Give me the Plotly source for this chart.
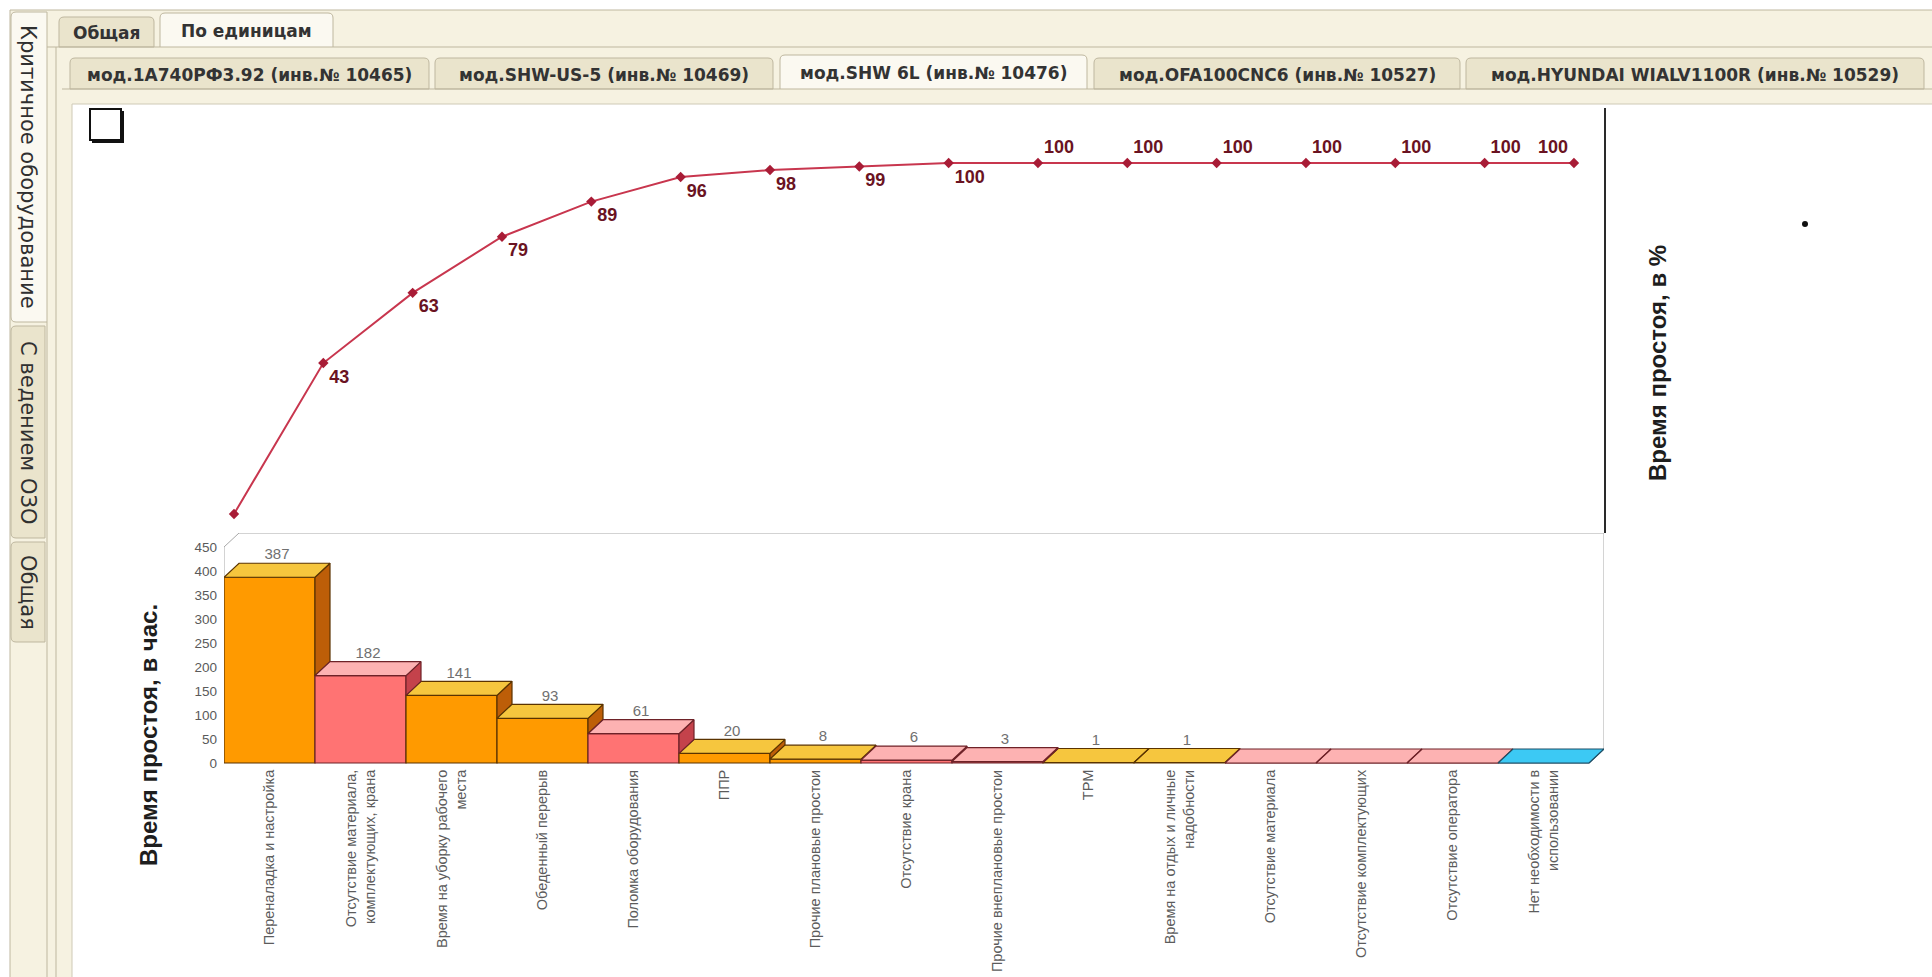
import plotly.graph_objects as go

# ---------------- data ----------------
categories = [
    "Переналадка и настройка",
    "Отсутствие материала,<br>комплектующих, крана",
    "Время на уборку рабочего<br>места",
    "Обеденный перерыв",
    "Поломка оборудования",
    "ППР",
    "Прочие плановые простои",
    "Отсутствие крана",
    "Прочие внеплановые простои",
    "ТРМ",
    "Время на отдых и личные<br>надобности",
    "Отсутствие материала",
    "Отсутствие комплектующих",
    "Отсутствие оператора",
    "Нет необходимости в<br>использовании",
]
downtime_hours = [387, 182, 141, 93, 61, 20, 8, 6, 3, 1, 1, 0, 0, 0, 0]
cumulative_pct = [0, 43, 63, 79, 89, 96, 98, 99, 100, 100, 100, 100, 100, 100, 100, 100]
bar_palette = ["orange", "pink", "orange", "orange", "pink", "orange", "orange",
               "pink", "pink", "orange", "orange", "pink", "pink", "pink", "blue"]
hour_ticks = [0, 50, 100, 150, 200, 250, 300, 350, 400, 450]

side_tabs = ["Критичное оборудование", "С ведением ОЗО", "Общая"]
view_tabs = ["Общая", "По единицам"]
machine_tabs = [
    "мод.1А740РФ3.92 (инв.№ 10465)",
    "мод.SHW-US-5 (инв.№ 10469)",
    "мод.SHW 6L (инв.№ 10476)",
    "мод.OFA100CNC6 (инв.№ 10527)",
    "мод.HYUNDAI WIALV1100R (инв.№ 10529)",
]
active_machine = 2

# ---------------- styling ----------------
W, H = 1932, 977
FONT = "Arial, Liberation Sans, sans-serif"
TAB_FONT = "DejaVu Sans, Verdana, sans-serif"
PALETTES = {
    "orange": dict(front="#FF9A00", top="#F6C63E", side="#BD5E08", edge="#5A3300"),
    "pink": dict(front="#FF7373", top="#FDB2B2", side="#C4424B", edge="#6E2228"),
    "blue": dict(front="#36C5F0", top="#3CC9F4", side="#1E8DB6", edge="#1F4F66"),
}
CREAM = "#F6F2E1"
TAB_OFF = "#EAE4CC"
TAB_ON = "#FBF9F1"
BORDER = "#BEB79F"

# bar chart frame (pixels)
BAR_L, BAR_R = 224, 1604
BAR_TOP, BAR_ZERO = 533, 763
DEPTH_X, DEPTH_Y = 15, 14
n = len(downtime_hours)
unit_px = (BAR_R - BAR_L - DEPTH_X) / n
hour_px = (BAR_ZERO - BAR_TOP - DEPTH_Y) / hour_ticks[-1]
dx = DEPTH_X / unit_px
dy = DEPTH_Y / hour_px
pad_h = 6

# pareto line frame (pixels)
LINE_X0, LINE_STEP, LINE_R = 234, 89.33, 1604
LINE_TOP, LINE_BOT = 108, 533
PCT0_Y, PCT100_Y = 514, 163
pct_px = (PCT0_Y - PCT100_Y) / 100.0


def px(x):
    return x / W


def py(y):
    return 1 - y / H


fig = go.Figure()

# ---- front faces of the bars ----
idx = list(range(n))
fig.add_trace(go.Bar(
    x=idx, y=downtime_hours, width=1,
    marker=dict(color=[PALETTES[p]["front"] for p in bar_palette],
                line=dict(color=[PALETTES[p]["edge"] for p in bar_palette], width=1.2)),
    xaxis="x", yaxis="y", hoverinfo="skip", showlegend=False,
))

# ---- top and side faces (3D depth) ----
for pal_name, pal in PALETTES.items():
    tx, ty, sx, sy = [], [], [], []
    for i, v in enumerate(downtime_hours):
        if bar_palette[i] != pal_name:
            continue
        nxt = downtime_hours[i + 1] if i + 1 < n else 0
        xl, xr = i - 0.5, i + 0.5
        tx += [xl, xr, xr + dx, xl + dx, xl, None]
        ty += [v, v, v + dy, v + dy, v, None]
        sx += [xr, xr, xr + dx, xr + dx, xr, None]
        sy += [nxt, v, v + dy, nxt + dy, nxt, None]
    for xs, ys, col in ((sx, sy, pal["side"]), (tx, ty, pal["top"])):
        fig.add_trace(go.Scatter(
            x=xs, y=ys, mode="lines", fill="toself", fillcolor=col,
            line=dict(color=pal["edge"], width=1.2),
            xaxis="x", yaxis="y", hoverinfo="skip", showlegend=False,
        ))

# ---- value labels over the bars ----
fig.add_trace(go.Scatter(
    x=[i + dx / 2 for i in idx],
    y=[v + dy for v in downtime_hours],
    text=[str(v) if v > 0 else "" for v in downtime_hours],
    mode="text", textposition="top center",
    textfont=dict(family=FONT, size=15, color="#707070"),
    xaxis="x", yaxis="y", hoverinfo="skip", showlegend=False, cliponaxis=False,
))

# ---- cumulative percentage line ----
positions = []
for k, val in enumerate(cumulative_pct):
    if k == len(cumulative_pct) - 1:
        positions.append("top left")
    elif k > 0 and val == cumulative_pct[k - 1]:
        positions.append("top right")
    else:
        positions.append("bottom right")
fig.add_trace(go.Scatter(
    x=list(range(len(cumulative_pct))), y=cumulative_pct,
    text=[""] + [str(v) for v in cumulative_pct[1:]],
    mode="lines+markers+text", textposition=positions,
    line=dict(color="#C8364E", width=2),
    marker=dict(symbol="diamond", size=8, color="#A81C36"),
    textfont=dict(family=FONT, size=18, color="#6A1322", weight="bold"),
    xaxis="x2", yaxis="y2", hoverinfo="skip", showlegend=False, cliponaxis=False,
))

# ---------------- window chrome ----------------
shapes = []
annotations = []


def rect(x0, y0, x1, y1, fill, line=BORDER, width=1, layer="below"):
    shapes.append(dict(type="rect", xref="paper", yref="paper",
                       x0=px(x0), x1=px(x1), y0=py(y1), y1=py(y0),
                       fillcolor=fill, line=dict(color=line, width=width), layer=layer))


def hline(x0, x1, y, color=BORDER, width=1):
    shapes.append(dict(type="line", xref="paper", yref="paper",
                       x0=px(x0), x1=px(x1), y0=py(y), y1=py(y),
                       line=dict(color=color, width=width), layer="below"))


def vline(x, y0, y1, color=BORDER, width=1):
    shapes.append(dict(type="line", xref="paper", yref="paper",
                       x0=px(x), x1=px(x), y0=py(y0), y1=py(y1),
                       line=dict(color=color, width=width), layer="below"))


def tab_top(x0, y0, x1, y1, fill, r=5):
    p = (f"M {px(x0)},{py(y1)} L {px(x0)},{py(y0 + r)} "
         f"Q {px(x0)},{py(y0)} {px(x0 + r)},{py(y0)} "
         f"L {px(x1 - r)},{py(y0)} Q {px(x1)},{py(y0)} {px(x1)},{py(y0 + r)} "
         f"L {px(x1)},{py(y1)} Z")
    shapes.append(dict(type="path", xref="paper", yref="paper", path=p,
                       fillcolor=fill, line=dict(color=BORDER, width=1), layer="below"))


def tab_left(x0, y0, x1, y1, fill, r=5):
    p = (f"M {px(x1)},{py(y0)} L {px(x0 + r)},{py(y0)} "
         f"Q {px(x0)},{py(y0)} {px(x0)},{py(y0 + r)} "
         f"L {px(x0)},{py(y1 - r)} Q {px(x0)},{py(y1)} {px(x0 + r)},{py(y1)} "
         f"L {px(x1)},{py(y1)} Z")
    shapes.append(dict(type="path", xref="paper", yref="paper", path=p,
                       fillcolor=fill, line=dict(color=BORDER, width=1), layer="below"))


def label(text, x, y, size, angle=0, bold=False, color="#2B2B2B", family=FONT):
    annotations.append(dict(text=text, xref="paper", yref="paper", x=px(x), y=py(y),
                            xanchor="center", yanchor="middle", showarrow=False,
                            textangle=angle,
                            font=dict(family=family, size=size, color=color,
                                      weight="bold" if bold else "normal")))


# outer frame
rect(10, 10, W + 2, H + 2, CREAM)

# vertical tabs on the left
side_spans = [(12, 322), (326, 538), (542, 642)]
for i, (t, (y0, y1)) in enumerate(zip(side_tabs, side_spans)):
    tab_left(11, y0, 47 if i == 0 else 45, y1, TAB_ON if i == 0 else TAB_OFF)
    label(t, 28, (y0 + y1) / 2, 21, angle=90, color="#303030", family=TAB_FONT)
vline(47, 322, H + 2)

# first row of tabs
view_spans = [(59, 154, 17), (160, 333, 13)]
for i, (t, (x0, x1, y0)) in enumerate(zip(view_tabs, view_spans)):
    tab_top(x0, y0, x1, 47, TAB_ON if i == 1 else TAB_OFF)
    label(t, (x0 + x1) / 2, (y0 + 47) / 2 + 1, 17, bold=True, color="#333333", family=TAB_FONT)
hline(47, 160, 47)
hline(333, W + 2, 47)
vline(56, 47, H + 2)

# second row of tabs
machine_spans = [(70, 429), (435, 773), (780, 1087), (1094, 1460), (1466, 1924)]
for i, (t, (x0, x1)) in enumerate(zip(machine_tabs, machine_spans)):
    on = i == active_machine
    y0 = 55 if on else 58
    tab_top(x0, y0, x1, 89, TAB_ON if on else TAB_OFF)
    label(t, (x0 + x1) / 2, (y0 + 89) / 2 + 1, 17, bold=True, color="#333333", family=TAB_FONT)
x_on0, x_on1 = machine_spans[active_machine]
hline(62, x_on0, 89)
hline(x_on1, W + 2, 89)

# chart area
rect(72, 104, W + 2, H + 2, "#FFFFFF", line="#CFCAB6")

# legend box in the corner
rect(90, 109, 121, 140, "#FFFFFF", line="#111111", width=2, layer="above")
shapes.append(dict(type="path", xref="paper", yref="paper",
                   path=f"M {px(92)},{py(142)} L {px(123)},{py(142)} L {px(123)},{py(111)}",
                   line=dict(color="#111111", width=2), layer="above"))
# stray marker dot
shapes.append(dict(type="circle", xref="paper", yref="paper",
                   x0=px(1802), x1=px(1808), y0=py(227), y1=py(221),
                   fillcolor="#111111", line=dict(width=0)))

# ---- 3D box edges of the bar chart ----
box_line = dict(color="#A8A8A8", width=1)
top_h = hour_ticks[-1]
shapes.append(dict(type="path", xref="x", yref="y",
                   path=(f"M -0.5,0 L -0.5,{top_h} L {-0.5 + dx},{top_h + dy} "
                         f"L {n - 0.5 + dx},{top_h + dy} L {n - 0.5 + dx},{dy}"),
                   line=box_line, layer="below"))

# axis titles
label("Время простоя, в час.", 148, 735, 24, angle=-90, bold=True, color="#1E1E1E")
label("Время простоя, в %", 1657, 363, 24, angle=-90, bold=True, color="#1E1E1E")

# ---------------- axes ----------------
x2_left = -0.2
x2_right = (LINE_R - LINE_X0) / LINE_STEP
y2_bot = -(LINE_BOT - PCT0_Y) / pct_px
y2_top = (PCT0_Y - LINE_TOP) / pct_px

fig.update_layout(
    width=W, height=H,
    margin=dict(l=0, r=0, t=0, b=0),
    paper_bgcolor="#FFFFFF",
    plot_bgcolor="rgba(0,0,0,0)",
    showlegend=False,
    shapes=shapes,
    annotations=annotations,
    xaxis=dict(
        domain=[px(BAR_L), px(BAR_R)],
        range=[-0.5, n - 0.5 + dx],
        tickmode="array", tickvals=idx, ticktext=categories,
        tickangle=-90, tickfont=dict(family=FONT, size=14.5, color="#5C5C5C"),
        showgrid=False, zeroline=False, showline=False, ticks="",
        automargin=False, fixedrange=True,
    ),
    yaxis=dict(
        domain=[py(BAR_ZERO + pad_h * hour_px), py(BAR_TOP)],
        range=[-pad_h, top_h + dy],
        tickmode="array", tickvals=hour_ticks,
        tickfont=dict(family=FONT, size=13.5, color="#5A5A5A"),
        showgrid=False, zeroline=False, showline=False, ticks="",
        ticklabelstandoff=6, automargin=False, fixedrange=True,
    ),
    xaxis2=dict(
        domain=[px(LINE_X0 + x2_left * LINE_STEP), px(LINE_R)],
        range=[x2_left, x2_right], anchor="y2",
        visible=False, fixedrange=True,
    ),
    yaxis2=dict(
        domain=[py(LINE_BOT), py(LINE_TOP)],
        range=[y2_bot, y2_top], anchor="x2", side="right",
        showline=True, linecolor="#2A2A2A", linewidth=2,
        showticklabels=False, ticks="", showgrid=False, zeroline=False,
        automargin=False, fixedrange=True,
    ),
)

fig.write_html(
    "out.html",
    config={"displayModeBar": False},
    post_script="document.body.style.margin='0';document.body.style.overflow='hidden';",
)
